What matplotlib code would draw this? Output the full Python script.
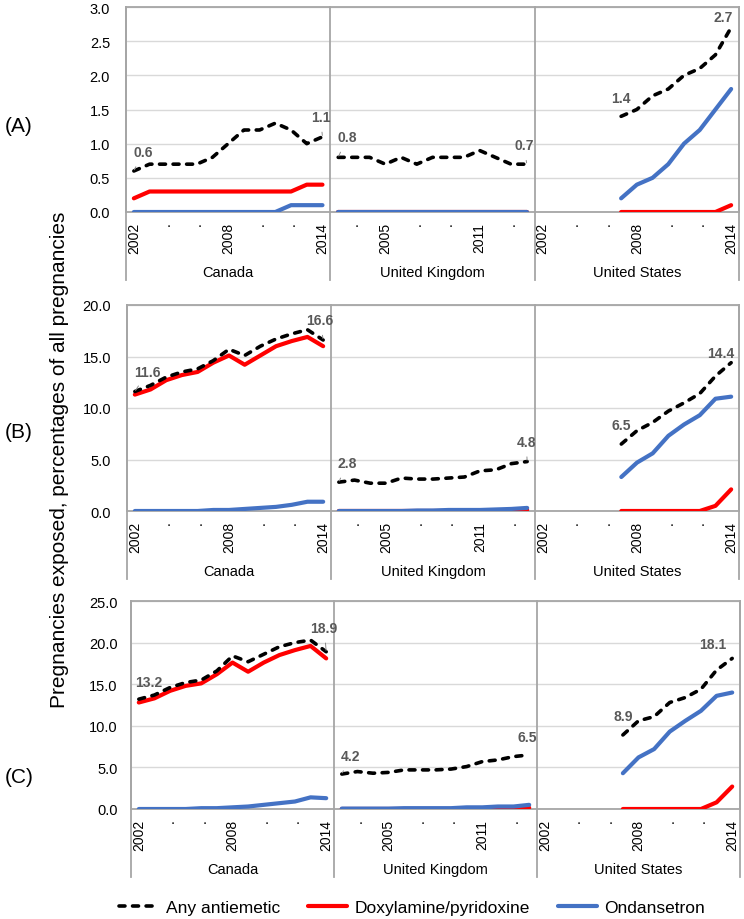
import matplotlib.pyplot as plt
from matplotlib.lines import Line2D

plt.rcParams['font.family'] = ['Liberation Sans', 'DejaVu Sans']

years = list(range(2002, 2015))
us_years = list(range(2007, 2015))
countries = ["Canada", "United Kingdom", "United States"]

# x tick labels per country block (year -> text)
ticks_can = {2002: "2002", 2004: ".", 2006: ".", 2008: "2008", 2010: ".", 2012: ".", 2014: "2014"}
ticks_uk = {2003: ".", 2005: "2005", 2007: ".", 2009: ".", 2011: "2011", 2013: "."}
ticks_us = ticks_can

# (A)
any_a_can = [0.6, 0.7, 0.7, 0.7, 0.7, 0.8, 1.0, 1.2, 1.2, 1.3, 1.2, 1.0, 1.1]
dox_a_can = [0.2, 0.3, 0.3, 0.3, 0.3, 0.3, 0.3, 0.3, 0.3, 0.3, 0.3, 0.4, 0.4]
ond_a_can = [0, 0, 0, 0, 0, 0, 0, 0, 0, 0, 0.1, 0.1, 0.1]
any_a_uk = [0.8, 0.8, 0.8, 0.7, 0.8, 0.7, 0.8, 0.8, 0.8, 0.9, 0.8, 0.7, 0.7]
dox_a_uk = [0, 0, 0, 0, 0, 0, 0, 0, 0, 0, 0, 0, 0]
ond_a_uk = [0, 0, 0, 0, 0, 0, 0, 0, 0, 0, 0, 0, 0]
any_a_us = [1.4, 1.5, 1.7, 1.8, 2.0, 2.1, 2.3, 2.7]
dox_a_us = [0, 0, 0, 0, 0, 0, 0, 0.1]
ond_a_us = [0.2, 0.4, 0.5, 0.7, 1.0, 1.2, 1.5, 1.8]

# (B)
any_b_can = [11.6, 12.2, 13.0, 13.5, 13.8, 14.6, 15.7, 15.1, 16.0, 16.7, 17.2, 17.6, 16.6]
dox_b_can = [11.3, 11.8, 12.7, 13.2, 13.5, 14.4, 15.1, 14.2, 15.1, 16.0, 16.5, 16.9, 16.0]
ond_b_can = [0, 0, 0, 0, 0, 0.1, 0.1, 0.2, 0.3, 0.4, 0.6, 0.9, 0.9]
any_b_uk = [2.8, 3.0, 2.7, 2.7, 3.2, 3.1, 3.1, 3.2, 3.3, 3.9, 4.0, 4.6, 4.8]
dox_b_uk = [0, 0, 0, 0, 0, 0, 0, 0, 0, 0, 0.02, 0.05, 0.1]
ond_b_uk = [0, 0, 0, 0, 0, 0.05, 0.05, 0.1, 0.1, 0.1, 0.15, 0.2, 0.3]
any_b_us = [6.5, 7.8, 8.6, 9.7, 10.5, 11.4, 13.1, 14.4]
dox_b_us = [0, 0, 0, 0, 0, 0, 0.5, 2.1]
ond_b_us = [3.3, 4.7, 5.6, 7.3, 8.4, 9.3, 10.9, 11.1]

# (C)
any_c_can = [13.2, 13.7, 14.6, 15.2, 15.5, 16.6, 18.4, 17.7, 18.6, 19.5, 20.0, 20.3, 18.9]
dox_c_can = [12.8, 13.3, 14.2, 14.8, 15.1, 16.2, 17.6, 16.5, 17.6, 18.5, 19.1, 19.6, 18.1]
ond_c_can = [0, 0, 0, 0, 0.1, 0.1, 0.2, 0.3, 0.5, 0.7, 0.9, 1.4, 1.3]
any_c_uk = [4.2, 4.5, 4.3, 4.4, 4.7, 4.7, 4.7, 4.8, 5.1, 5.7, 5.9, 6.3, 6.5]
dox_c_uk = [0, 0, 0, 0, 0, 0, 0, 0, 0, 0.02, 0.05, 0.1, 0.15]
ond_c_uk = [0.05, 0.05, 0.05, 0.05, 0.1, 0.1, 0.1, 0.1, 0.2, 0.2, 0.3, 0.3, 0.5]
any_c_us = [8.9, 10.6, 11.1, 12.8, 13.4, 14.4, 16.7, 18.1]
dox_c_us = [0, 0, 0, 0, 0, 0, 0.8, 2.7]
ond_c_us = [4.3, 6.2, 7.2, 9.3, 10.6, 11.8, 13.6, 14.0]

series_names = ["Any antiemetic", "Doxylamine/pyridoxine", "Ondansetron"]

# labelled points on "any antiemetic": (country, year, dx, dy, leader) -- offsets in pixels
labels_a = [(0, 2002, 9, 19, True), (0, 2014, -2, 20, True), (1, 2002, 9, 20, True),
            (1, 2014, -3, 19, True), (2, 2007, 0, 18, False), (2, 2014, -8, 11, False)]
labels_b = [(0, 2002, 13, 20, True), (0, 2014, -3, 20, True), (1, 2002, 8, 19, True),
            (1, 2014, -1, 20, True), (2, 2007, 0, 19, False), (2, 2014, -10, 10, False)]
labels_c = [(0, 2002, 10, 17, False), (0, 2014, -2, 24, True), (1, 2002, 9, 18, True),
            (1, 2014, -2, 18, False), (2, 2007, 0, 19, False), (2, 2014, -19, 14, False)]

BLACK, RED, BLUE = "black", "#FF0000", "#4472C4"
GRID, FRAME, LABEL = "#D9D9D9", "#A6A6A6", "#595959"
DASH = (0, (1.65, 2.1))
W, H = 744, 920

fig = plt.figure(figsize=(W / 100, H / 100), dpi=100)


def draw_panel(px, ymax, ystep, data, labels, tag, tag_y, ypad):
    left, top, right, zero = px
    ax = fig.add_axes([left / W, 1 - zero / H, (right - left) / W, (zero - top) / H])
    for g, (any_v, dox_v, ond_v) in enumerate(data):
        yrs = years if len(any_v) == len(years) else us_years
        xs = [g * 13 + (y - 2002) for y in yrs]
        ax.plot(xs, dox_v, color=RED, lw=3.0, solid_capstyle="round", solid_joinstyle="round", zorder=3)
        ax.plot(xs, ond_v, color=BLUE, lw=3.0, solid_capstyle="round", solid_joinstyle="round", zorder=4)
        ax.plot(xs, any_v, color=BLACK, lw=2.6, linestyle=DASH,
                dash_capstyle="round", zorder=5)
    for g, yr, dx, dy, leader in labels:
        yrs = years if len(data[g][0]) == len(years) else us_years
        v = data[g][0][yrs.index(yr)]
        ax.annotate(f"{v:.1f}", xy=(g * 13 + yr - 2002, v), xytext=(dx, dy),
                    textcoords="offset pixels", ha="center", va="center",
                    fontsize=10, fontweight="bold", color=LABEL, zorder=6,
                    annotation_clip=False,
                    arrowprops=dict(arrowstyle="-", color="#8c8c8c", lw=0.7,
                                    shrinkA=4, shrinkB=1) if leader else None)

    ax.set_xlim(-0.5, 38.5)
    ax.set_ylim(0, ymax)
    yt = [i * ystep for i in range(int(round(ymax / ystep)) + 1)]
    ax.set_yticks(yt)
    ax.set_yticklabels([f"{t:.1f}" for t in yt])
    ax.yaxis.grid(True, color=GRID, lw=1)
    ax.set_axisbelow(True)

    tpos, tlab = [], []
    for g, tk in enumerate([ticks_can, ticks_uk, ticks_us]):
        for yr, t in tk.items():
            tpos.append(g * 13 + yr - 2002)
            tlab.append(t)
    ax.set_xticks(tpos)
    ax.set_xticklabels(tlab, rotation=90, va="top", ha="center")
    ax.tick_params(axis="x", length=0, pad=7, labelsize=10)
    ax.tick_params(axis="y", length=0, pad=ypad, labelsize=10.5)

    for s in ax.spines.values():
        s.set_color(FRAME)
        s.set_linewidth(1.3)
    ext = 68 / (zero - top)
    for xv in [-0.5, 12.5, 25.5, 38.5]:
        ax.plot([xv, xv], [1, -ext], transform=ax.get_xaxis_transform(),
                color=FRAME, lw=1.3, clip_on=False, zorder=2)
    for g, name in enumerate(countries):
        ax.annotate(name, xy=(g * 13 + 6, 0), xycoords=("data", "axes fraction"),
                    xytext=(0, -60), textcoords="offset pixels",
                    ha="center", va="center", fontsize=10.5)
    fig.text(19 / W, 1 - tag_y / H, tag, fontsize=15, ha="center", va="center")
    return ax


draw_panel((126, 8, 739, 213), 3.0, 0.5,
           [(any_a_can, dox_a_can, ond_a_can), (any_a_uk, dox_a_uk, ond_a_uk), (any_a_us, dox_a_us, ond_a_us)],
           labels_a, "(A)", 127, 11.5)
draw_panel((127, 306, 739, 512), 20.0, 5.0,
           [(any_b_can, dox_b_can, ond_b_can), (any_b_uk, dox_b_uk, ond_b_uk), (any_b_us, dox_b_us, ond_b_us)],
           labels_b, "(B)", 433, 11.5)
draw_panel((131, 602, 740, 810), 25.0, 5.0,
           [(any_c_can, dox_c_can, ond_c_can), (any_c_uk, dox_c_uk, ond_c_uk), (any_c_us, dox_c_us, ond_c_us)],
           labels_c, "(C)", 778, 9.5)

fig.text(60 / W, 1 - 460 / H, "Pregnancies exposed, percentages of all pregnancies",
         rotation=90, ha="center", va="center", fontsize=15)

handles = [
    Line2D([], [], color=BLACK, lw=2.6, linestyle=DASH, dash_capstyle="round"),
    Line2D([], [], color=RED, lw=3.0, solid_capstyle="round"),
    Line2D([], [], color=BLUE, lw=3.0, solid_capstyle="round"),
]
fig.legend(handles, series_names, loc="center", bbox_to_anchor=(412 / W, 1 - 908 / H),
           ncol=3, frameon=False, fontsize=12.5, handlelength=2.25, handletextpad=0.45,
           columnspacing=1.6, borderpad=0)

plt.savefig("out.png", dpi=100)
